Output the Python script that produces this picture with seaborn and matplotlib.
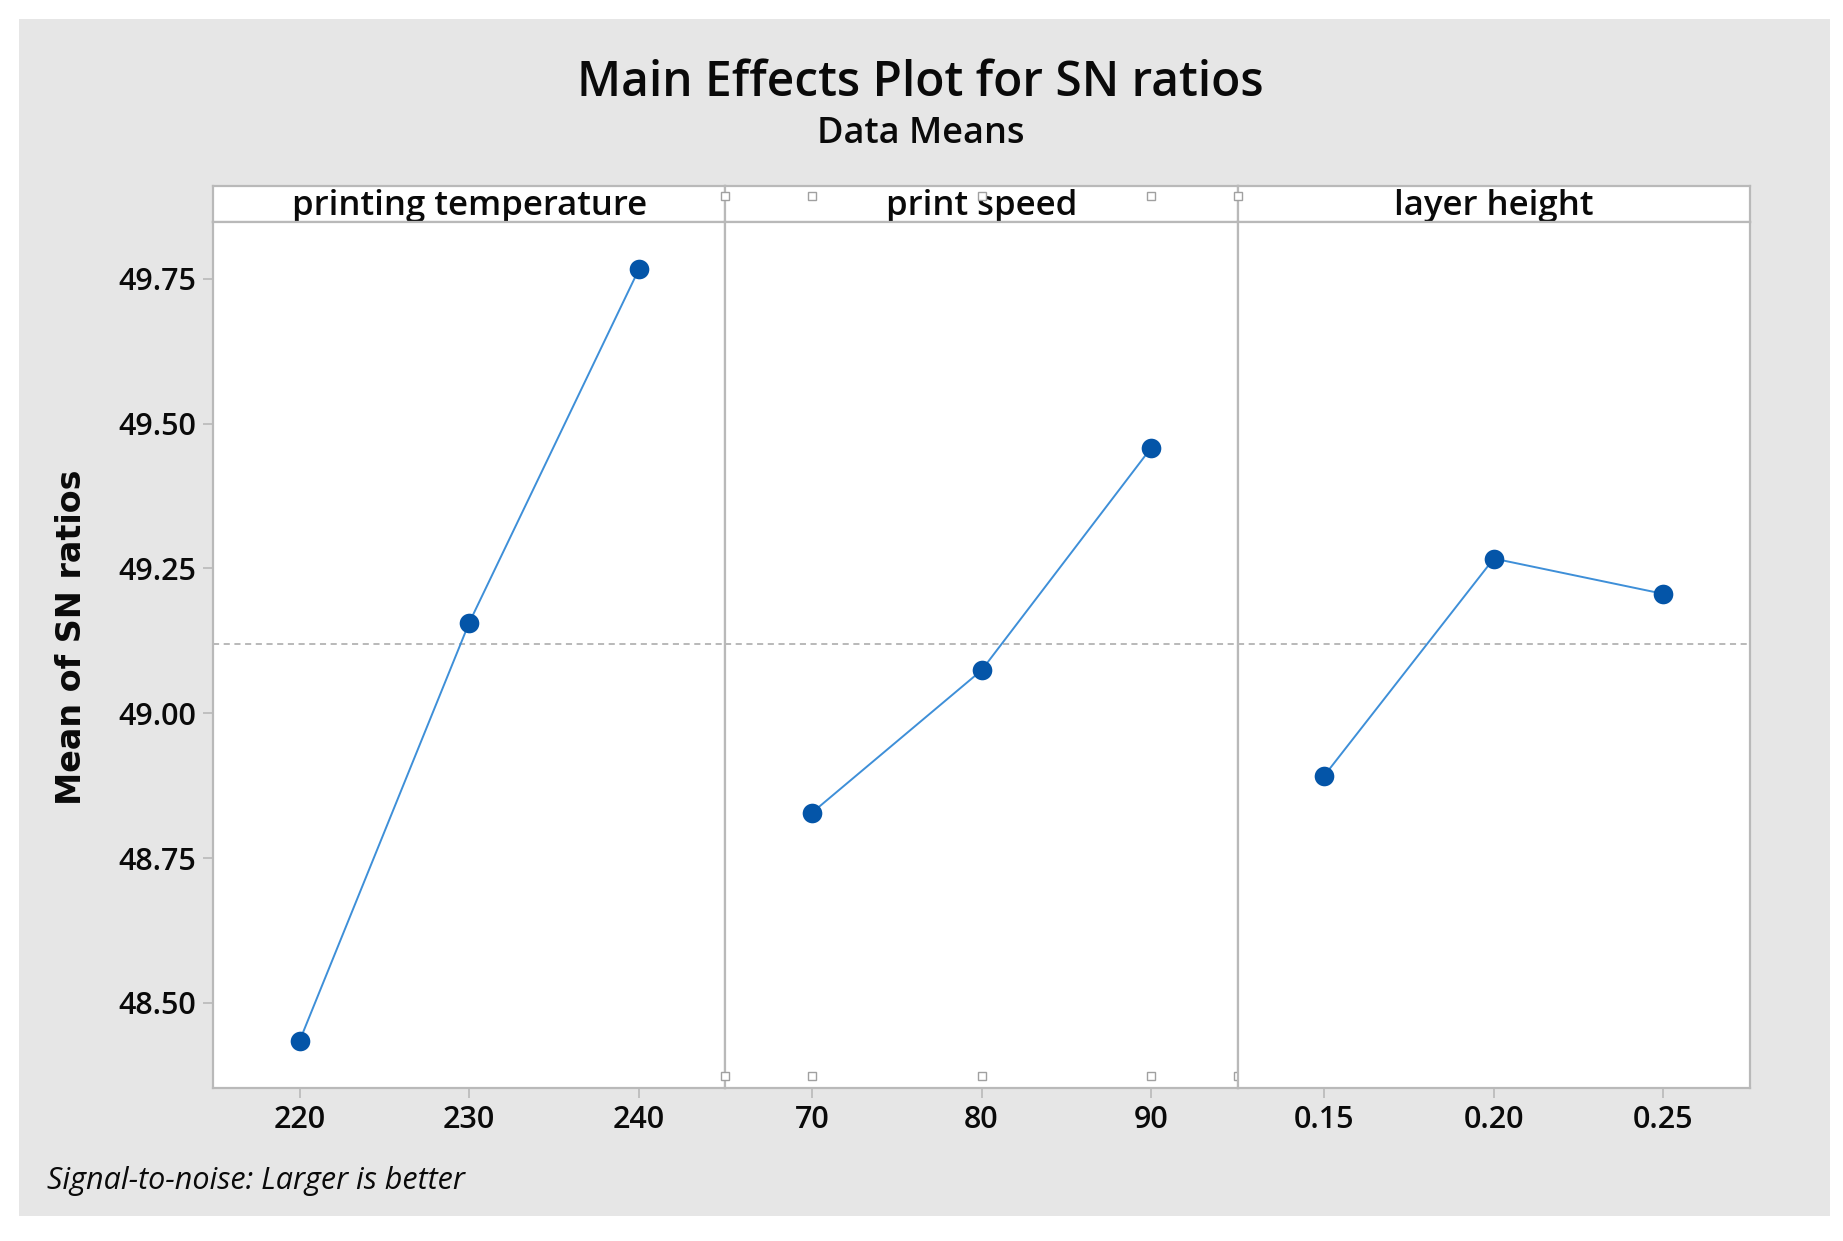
import numpy as np
import pandas as pd
import matplotlib
matplotlib.use("Agg")
import matplotlib.pyplot as plt
import matplotlib.transforms as mtransforms
from matplotlib.patches import Rectangle
import seaborn as sns

# ---------------- data ----------------
factors = ["printing temperature", "print speed", "layer height"]
temp_levels = [220, 230, 240]
temp_sn = [48.434, 49.156, 49.766]
speed_levels = [70, 80, 90]
speed_sn = [48.828, 49.074, 49.458]
layer_levels = [0.15, 0.20, 0.25]
layer_sn = [48.892, 49.267, 49.206]
temp_ticklabels = ["220", "230", "240"]
speed_ticklabels = ["70", "80", "90"]
layer_ticklabels = ["0.15", "0.20", "0.25"]
y_ticks = [48.50, 48.75, 49.00, 49.25, 49.50, 49.75]
y_ticklabels = ["48.50", "48.75", "49.00", "49.25", "49.50", "49.75"]

title = "Main Effects Plot for SN ratios"
subtitle = "Data Means"
ylabel = "Mean of SN ratios"
footnote = "Signal-to-noise: Larger is better"

levels_all = [temp_levels, speed_levels, layer_levels]
sn_all = [temp_sn, speed_sn, layer_sn]
ticklabels_all = [temp_ticklabels, speed_ticklabels, layer_ticklabels]

df = pd.concat(
    [pd.DataFrame({"factor": f, "level": lv, "sn": sn})
     for f, lv, sn in zip(factors, levels_all, sn_all)],
    ignore_index=True)
grand_mean = df["sn"].mean()

# ---------------- style ----------------
sns.set_theme(style="white")
plt.rcParams["font.family"] = ["Open Sans", "DejaVu Sans"]
TXT_W = "semibold"

W, H = 1843, 1241
fig = plt.figure(figsize=(W / 100, H / 100), dpi=100, facecolor="white")

BG = "#E6E6E6"
FRAME = "#B9B9B9"
LINE_C = "#3E8FD8"
MARK_C = "#0455A8"
TXT_C = "#0A0A0A"

fig.patches.append(Rectangle((19 / W, 1 - 1216 / H), (1830 - 19) / W, (1216 - 19) / H,
                             transform=fig.transFigure, facecolor=BG, edgecolor="none",
                             zorder=-10))

x0, x1 = 213, 1750
ybot, ytop = 1088, 222
strip_top = 186
pw = (x1 - x0) / 3

axes = []
strips = []
for i in range(3):
    sax = fig.add_axes([(x0 + i * pw) / W, 1 - ytop / H, pw / W, (ytop - strip_top) / H])
    strips.append(sax)
for i in range(3):
    ax = fig.add_axes([(x0 + i * pw) / W, 1 - ybot / H, pw / W, (ybot - ytop) / H],
                      sharey=axes[0] if axes else None)
    ax.set_zorder(3)
    axes.append(ax)

for i, (ax, f) in enumerate(zip(axes, factors)):
    sub = df[df["factor"] == f]
    lv = levels_all[i]
    step = lv[1] - lv[0]
    ax.set_facecolor("white")
    ax.axhline(grand_mean, color="#A5A5A5", lw=1.1, ls=(0, (4, 3)), zorder=1)
    sns.lineplot(data=sub, x="level", y="sn", ax=ax, color=LINE_C, lw=1.4,
                 zorder=2, legend=False)
    sns.scatterplot(data=sub, x="level", y="sn", ax=ax, color=MARK_C, s=200,
                    edgecolor=MARK_C, linewidth=0, zorder=3, legend=False)
    ax.set_xlim(lv[0] - step * 0.51, lv[-1] + step * 0.51)
    ax.set_xticks(lv)
    ax.set_xticklabels(ticklabels_all[i], fontweight=TXT_W)
    ax.set_xlabel("")
    ax.set_ylabel("")
    for s in ax.spines.values():
        s.set_color(FRAME)
        s.set_linewidth(1.6)
    ax.tick_params(axis="x", bottom=True, length=7, width=1.2, color=FRAME,
                   labelsize=22, pad=5, labelcolor=TXT_C)
    if i == 0:
        ax.tick_params(axis="y", left=True, length=7, width=1.2, color=FRAME,
                       labelsize=22, pad=5, labelcolor=TXT_C)
    else:
        ax.tick_params(axis="y", left=False, labelleft=False)

    # strip
    sax = strips[i]
    sax.set_facecolor("white")
    sax.set_xticks([])
    sax.set_yticks([])
    for s in sax.spines.values():
        s.set_color(FRAME)
        s.set_linewidth(1.6)
    sax.text(0.5, 0.45, f, ha="center", va="center", fontsize=25,
             color=TXT_C, fontweight=TXT_W, transform=sax.transAxes)

axes[0].set_ylim(48.353, 49.848)
axes[0].set_yticks(y_ticks)
axes[0].set_yticklabels(y_ticklabels, fontweight=TXT_W)
axes[0].set_ylabel(ylabel, fontsize=24, family=["DejaVu Sans"], fontweight="bold",
                   color=TXT_C)
axes[0].yaxis.set_label_coords(-0.244, 0.52)

# small selection handles (artefact in the reference) on the middle panel
ax2 = axes[1]
lv = speed_levels
step = lv[1] - lv[0]
hx = [lv[0] - step * 0.51] + lv + [lv[-1] + step * 0.51]
trans = mtransforms.blended_transform_factory(ax2.transData, ax2.transAxes)
for yy in (1.030, 0.014):
    ax2.plot(hx, [yy] * len(hx), ls="none", marker="s", ms=5.5, mfc="white",
             mec="#A0A0A0", mew=1.0, transform=trans, clip_on=False, zorder=10)

fig.text(0.4995, 1 - 83 / H, title, ha="center", va="center", fontsize=34.5,
         color=TXT_C, fontweight=TXT_W)
fig.text(0.4995, 1 - 134 / H, subtitle, ha="center", va="center", fontsize=26,
         color=TXT_C, fontweight=TXT_W)
fig.text(47 / W, 1 - 1181 / H, footnote, ha="left", va="center", fontsize=22,
         style="italic", color=TXT_C)

fig.savefig("out.png", dpi=100, facecolor="white")
